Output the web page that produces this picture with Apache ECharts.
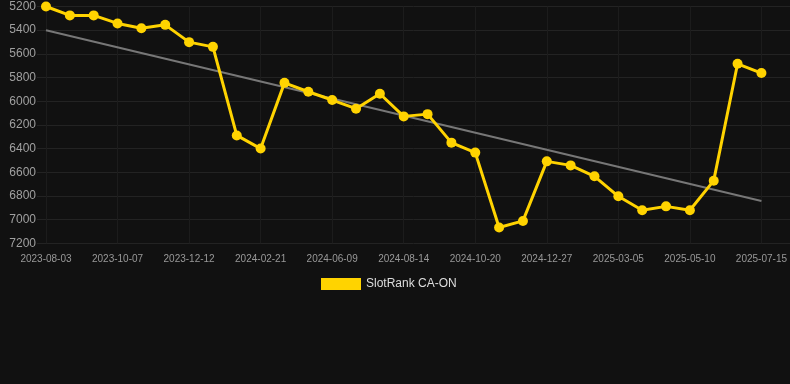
<!DOCTYPE html>
<html>
<head>
<meta charset="utf-8">
<script src="https://cdn.jsdelivr.net/npm/echarts@6/dist/echarts.min.js"></script>
<style>
html,body{margin:0;padding:0;background:#111111;}
#chart{width:790px;height:384px;}
</style>
</head>
<body>
<div id="chart"></div>
<script>
var categories = [
  '2023-08-03','2023-08-25','2023-09-15','2023-10-07','2023-10-29','2023-11-20',
  '2023-12-12','2024-01-04','2024-01-28','2024-02-21','2024-03-29','2024-05-04',
  '2024-06-09','2024-07-01','2024-07-23','2024-08-14','2024-09-05','2024-09-27',
  '2024-10-20','2024-11-11','2024-12-04','2024-12-27','2025-01-18','2025-02-10',
  '2025-03-05','2025-03-27','2025-04-18','2025-05-10','2025-06-01','2025-06-23',
  '2025-07-15'
];
var rankValues = [
  5200, 5275, 5275, 5343, 5383, 5355, 5501, 5541, 6289, 6400,
  5845, 5920, 5990, 6063, 5937, 6128, 6109, 6350, 6434, 7067,
  7011, 6508, 6542, 6634, 6803, 6921, 6888, 6921, 6671, 5684,
  5762
];
var trendStart = 5400;
var trendEnd = 6842;
var yTicks = { min: 5200, max: 7200, interval: 200 };
var seriesName = 'SlotRank CA-ON';

var trendData = categories.map(function (c, i) {
  if (i === 0) return trendStart;
  if (i === categories.length - 1) return trendEnd;
  return null;
});

var font = 'Liberation Sans, Arial, sans-serif';
var chart = echarts.init(document.getElementById('chart'));
chart.setOption({
  backgroundColor: '#111111',
  animation: false,
  textStyle: { fontFamily: font },
  grid: [
    { left: 37, right: 0, top: 6.5, bottom: 140.7, containLabel: false },
    { left: 46, right: 28, top: 6.5, bottom: 140.7, containLabel: false }
  ],
  legend: {
    data: [seriesName],
    left: 316,
    top: 273,
    itemWidth: 40,
    itemHeight: 12,
    itemGap: 10,
    icon: 'rect',
    textStyle: { color: '#dddddd', fontSize: 12, fontFamily: font }
  },
  xAxis: [
    {
      gridIndex: 0, type: 'category', data: categories, show: false
    },
    {
      gridIndex: 1,
      type: 'category',
      data: categories,
      boundaryGap: false,
      axisLine: { show: false },
      axisTick: { show: false },
      axisLabel: { interval: 2, color: '#999999', fontSize: 10, margin: 11, fontFamily: font },
      splitLine: { show: true, interval: 2, lineStyle: { color: '#1c1c1c', width: 1 } }
    }
  ],
  yAxis: [
    {
      gridIndex: 0,
      type: 'value',
      inverse: true,
      min: yTicks.min, max: yTicks.max, interval: yTicks.interval,
      axisLine: { show: false },
      axisTick: { show: false },
      axisLabel: {
        color: '#a0a0a0', fontSize: 12, margin: 1, fontFamily: font,
        formatter: function (v) { return String(v); }
      },
      splitLine: { show: true, lineStyle: { color: '#232323', width: 1 } }
    },
    {
      gridIndex: 1,
      type: 'value',
      inverse: true,
      min: yTicks.min, max: yTicks.max, interval: yTicks.interval,
      show: false
    }
  ],
  series: [
    {
      name: 'trend',
      type: 'line',
      xAxisIndex: 1, yAxisIndex: 1,
      data: trendData,
      connectNulls: true,
      showSymbol: false,
      symbol: 'none',
      lineStyle: { color: '#777777', width: 2 },
      itemStyle: { color: '#777777' },
      silent: true,
      z: 1
    },
    {
      name: seriesName,
      type: 'line',
      xAxisIndex: 1, yAxisIndex: 1,
      data: rankValues,
      symbol: 'circle',
      symbolSize: 10,
      lineStyle: { color: '#ffd300', width: 3 },
      itemStyle: { color: '#ffd300' },
      z: 2
    }
  ]
});
</script>
</body>
</html>
